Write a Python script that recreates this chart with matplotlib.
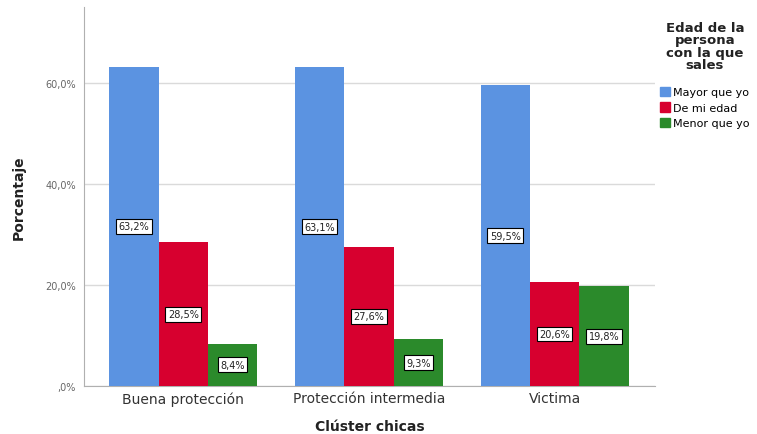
import numpy as np
import matplotlib.pyplot as plt
from matplotlib.patches import Patch

clusters = ['Buena protección', 'Protección intermedia', 'Victima']
series = ['Mayor que yo', 'De mi edad', 'Menor que yo']
mayor = [63.2, 63.1, 59.5]
mi_edad = [28.5, 27.6, 20.6]
menor = [8.4, 9.3, 19.8]
yticks = [0, 20, 40, 60]
ytick_labels = [',0%', '20,0%', '40,0%', '60,0%']

colors = ['#5b93e1', '#d7002f', '#2b8a2b']

fig = plt.figure(figsize=(7.57, 4.35), dpi=100)
ax = fig.add_axes([0.111, 0.110, 0.754, 0.872])

x = np.arange(len(clusters))
w = 0.266
for i, (vals, col) in enumerate(zip([mayor, mi_edad, menor], colors)):
    pos = x + (i - 1) * w
    ax.bar(pos, vals, width=w, color=col, zorder=3)
    for p, v in zip(pos, vals):
        ax.text(p, v / 2, f'{v:.1f}%'.replace('.', ','), ha='center', va='center',
                fontsize=7, color='#222222', zorder=4,
                bbox=dict(boxstyle='square,pad=0.25', fc='white', ec='black', lw=0.8))

ax.set_xlim(-0.535, 2.54)
ax.set_ylim(0, 75)
ax.set_yticks(yticks)
ax.set_yticklabels(ytick_labels, fontsize=7, color='#666666')
ax.set_xticks(x)
ax.set_xticklabels(clusters, fontsize=10, color='#333333')
ax.tick_params(axis='both', length=0)
ax.tick_params(axis='y', pad=6)
ax.grid(axis='y', color='#dadada', lw=1, zorder=0)
for s in ['top', 'right']:
    ax.spines[s].set_visible(False)
for s in ['left', 'bottom']:
    ax.spines[s].set_color('#b0b0b0')

ax.set_xlabel('Clúster chicas', fontsize=10, fontweight='bold', color='#222222', labelpad=10)
ax.set_ylabel('Porcentaje', fontsize=10, fontweight='bold', color='#222222', labelpad=14)

fig.text(0.931, 0.950, 'Edad de la\npersona\ncon la que\nsales', ha='center', va='top',
         fontsize=9.5, fontweight='bold', color='#222222', linespacing=0.95)
handles = [Patch(color=c) for c in colors]
fig.legend(handles, series, loc='upper left', bbox_to_anchor=(0.866, 0.808), frameon=False,
           fontsize=8, handlelength=0.9, handleheight=0.9, handletextpad=0.3,
           labelspacing=0.45, borderaxespad=0)

fig.savefig('out.png', dpi=100)
